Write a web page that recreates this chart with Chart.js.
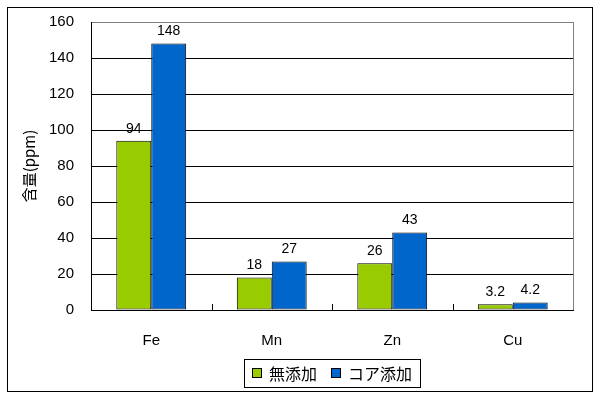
<!doctype html>
<html lang="ja">
  <head>
    <meta charset="utf-8">
    <title>含量(ppm)</title>
    <script src="https://cdn.jsdelivr.net/npm/chart.js"></script>
    <style>
      html, body { margin: 0; padding: 0; background: #fff; }
      #wrap { width: 600px; height: 400px; }
    </style>
  </head>
  <body>
    <div id="wrap"><canvas id="chart" width="600" height="400"></canvas></div>
    <script>
      const elements = ['Fe', 'Mn', 'Zn', 'Cu'];
      const noAdditive = [94, 18, 26, 3.2];
      const coreAdditive = [148, 27, 43, 4.2];
      const seriesNames = ['無添加', 'コア添加'];
      const yTitle = '含量(ppm)';

      const numFont = "'Liberation Sans', Arial, sans-serif";
      const jpFont = "'Noto Sans CJK JP', sans-serif";

      // frame, legend, value labels, inward tick marks
      const decor = {
        id: 'decor',
        afterDraw(chart) {
          const ctx = chart.ctx;
          const a = chart.chartArea;
          ctx.save();
          ctx.strokeStyle = '#000';
          ctx.lineWidth = 1;
          ctx.strokeRect(7.5, 7.5, 585, 384);

          // right edge of the plot is grey
          ctx.strokeStyle = '#808080';
          ctx.beginPath();
          ctx.moveTo(Math.round(a.right) + 0.5, a.top);
          ctx.lineTo(Math.round(a.right) + 0.5, a.bottom);
          ctx.stroke();

          // category tick marks pointing up
          const x = chart.scales.x;
          ctx.strokeStyle = '#000';
          ctx.beginPath();
          for (let i = 1; i < elements.length; i++) {
            const px = Math.round((x.getPixelForValue(i - 1) + x.getPixelForValue(i)) / 2) + 0.5;
            ctx.moveTo(px, a.bottom);
            ctx.lineTo(px, a.bottom - 6);
          }
          ctx.stroke();

          // value labels
          ctx.fillStyle = '#000';
          ctx.font = '14px ' + numFont;
          ctx.textAlign = 'center';
          ctx.textBaseline = 'bottom';
          chart.data.datasets.forEach((ds, di) => {
            chart.getDatasetMeta(di).data.forEach((bar, i) => {
              ctx.fillText(String(ds.data[i]), bar.x, bar.y - 5);
            });
          });

          // legend in a box, centred under the plot
          ctx.font = '16px ' + jpFont;
          ctx.textAlign = 'left';
          ctx.textBaseline = 'middle';
          const box = 10, gap = 7, sep = 14, padX = 8;
          const widths = seriesNames.map(n => ctx.measureText(n).width);
          const total = padX * 2 + widths.reduce((s, w) => s + box + gap + w, 0) + sep;
          const lx = Math.round((a.left + a.right) / 2 - total / 2);
          const ly = 359, lh = 28, cy = ly + lh / 2;
          ctx.strokeStyle = '#000';
          ctx.strokeRect(lx + 0.5, ly + 0.5, Math.round(total), lh);
          let cx = lx + padX;
          chart.data.datasets.forEach((ds, i) => {
            ctx.fillStyle = ds.backgroundColor;
            ctx.fillRect(cx, cy - box / 2, box, box);
            ctx.strokeRect(cx + 0.5, cy - box / 2 + 0.5, box - 1, box - 1);
            cx += box + gap;
            ctx.fillStyle = '#000';
            ctx.fillText(ds.label, cx, cy + 1);
            cx += widths[i] + sep;
          });
          ctx.restore();
        }
      };

      new Chart(document.getElementById('chart').getContext('2d'), {
        type: 'bar',
        data: {
          labels: elements,
          datasets: [
            {
              label: seriesNames[0],
              data: noAdditive,
              backgroundColor: '#99CC00',
              borderColor: '#000',
              borderWidth: 1,
              borderSkipped: false
            },
            {
              label: seriesNames[1],
              data: coreAdditive,
              backgroundColor: '#0066CC',
              borderColor: '#000',
              borderWidth: 1,
              borderSkipped: false
            }
          ]
        },
        options: {
          responsive: false,
          animation: false,
          layout: { padding: { left: 0, right: 27, top: 22, bottom: 42 } },
          plugins: {
            legend: { display: false },
            tooltip: { enabled: false }
          },
          datasets: {
            bar: { categoryPercentage: 0.58, barPercentage: 1.0 }
          },
          scales: {
            x: {
              grid: { display: false, drawTicks: false },
              border: { color: '#000', width: 1 },
              ticks: {
                color: '#000',
                font: { family: numFont, size: 15 },
                padding: 22
              },
              afterFit(scale) { scale.height = 48; }
            },
            y: {
              min: 0,
              max: 160,
              ticks: {
                stepSize: 20,
                color: '#000',
                font: { family: numFont, size: 15 },
                padding: 17
              },
              grid: {
                color: ctx => ctx.tick && ctx.tick.value === 160 ? '#808080' : '#000',
                drawTicks: false
              },
              border: { color: '#000', width: 1 },
              title: {
                display: true,
                text: yTitle,
                color: '#000',
                font: { family: jpFont, size: 15 },
                padding: { top: 20, bottom: 0 }
              },
              afterFit(scale) {
                scale.width = 91;
                // tick padding would otherwise push the plot top down
                scale.paddingTop = 0;
                scale.paddingBottom = 0;
              }
            }
          }
        },
        plugins: [decor]
      });
    </script>
  </body>
</html>
